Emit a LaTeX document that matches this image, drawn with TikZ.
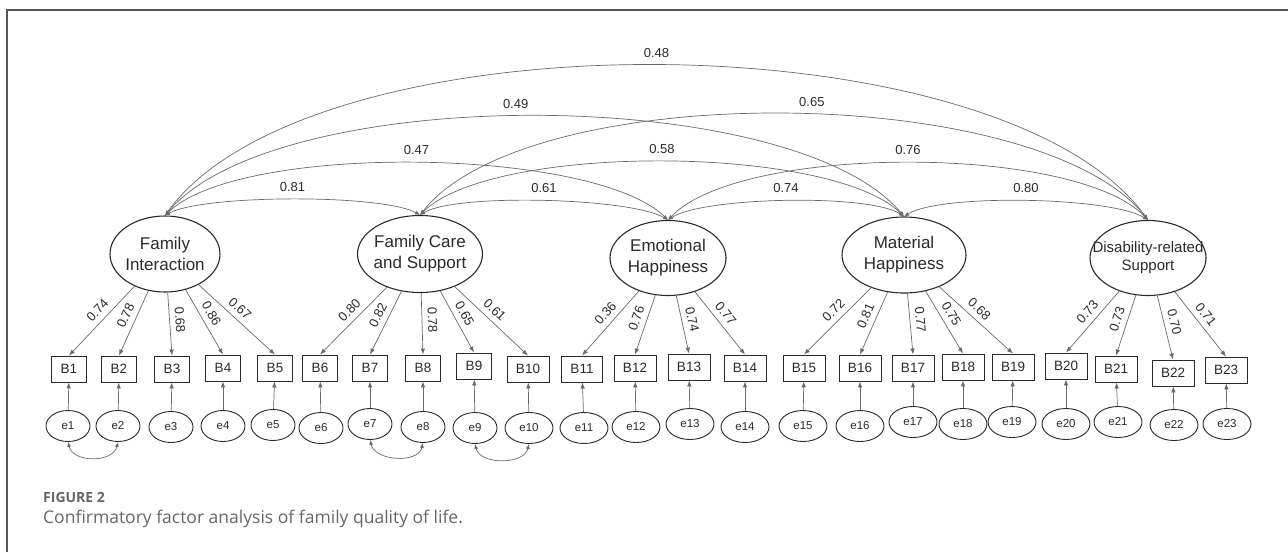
\documentclass[tikz,border=0pt]{standalone}
\usepackage{fontspec}
\setmainfont{Liberation Sans}
\newfontfamily\capfont{Open Sans}
\usetikzlibrary{arrows.meta,shapes.geometric}
\definecolor{framegray}{HTML}{555555}
\definecolor{linegray}{HTML}{6A6A6A}
\definecolor{txt}{HTML}{2A2A2A}
\definecolor{capgray}{HTML}{666666}
\begin{document}
\begin{tikzpicture}[x=1pt,y=-1pt,
  latent/.style={ellipse, draw=txt, line width=1.1pt, inner sep=0pt},
  lattext/.style={align=center, font=\fontsize{17}{21}\selectfont, text=txt},
  ind/.style={rectangle, draw=txt, line width=0.9pt, minimum width=34pt, minimum height=26pt, inner xsep=9pt, inner ysep=0pt, font=\fontsize{13.5}{16}\selectfont, text=txt},
  err/.style={ellipse, draw=txt, line width=0.9pt, minimum width=44pt, minimum height=31pt, inner sep=0pt, font=\fontsize{11.5}{14}\selectfont, text=txt},
  errw/.style={err, minimum width=48pt},
  load/.style={draw=linegray, line width=0.7pt, -{Latex[length=6pt,width=4.5pt]}},
  corr/.style={draw=linegray, line width=0.7pt, {Latex[length=5pt,width=4pt]}-{Latex[length=5pt,width=4pt]}},
  lbl/.style={font=\fontsize{13}{15}\selectfont, text=txt, inner sep=1.5pt}
]
\useasboundingbox (0,0) rectangle (1288,552);
\draw[framegray, line width=1.2pt] (7,552) -- (7,10) -- (1288,10);

% latent variables
\node[latent, minimum width=110, minimum height=76, label={[lattext]center:Family\\Interaction}] (F1) at (165,254) {};
\node[latent, minimum width=125, minimum height=77, label={[lattext]center:Family Care\\and Support}] (F2) at (420,254) {};
\node[latent, minimum width=116, minimum height=75, label={[lattext]center:Emotional\\Happiness}] (F3) at (668,258) {};
\node[latent, minimum width=124, minimum height=76, label={[lattext]center:Material\\Happiness}] (F4) at (904,255) {};
\node[latent, minimum width=116, minimum height=75, label={[lattext, font=\fontsize{15}{18}\selectfont]center:Disability-related\\Support}] (F5) at (1148,258) {};

% indicators
\foreach \n/\x/\y in {1/69/369, 2/119/369, 3/172/369, 4/223/368, 5/275/368, 6/320/368, 7/370/368, 8/423/368, 9/474/366, 10/528/369, 11/582/369, 12/635/368, 13/689/367, 14/745/368, 15/804/368, 16/860/368, 17/913/368, 18/963/367, 19/1013/367, 20/1066/366, 21/1116/369, 22/1173/373, 23/1226/370}
  \node[ind] (B\n) at (\x,\y) {B\n};

% errors
\foreach \n/\x/\y in {1/68/426, 2/118/426, 3/171/427, 4/223/426, 5/273/425, 6/321/428, 7/370/424, 8/423/427, 9/475/428}
  \node[err] (e\n) at (\x,\y) {e\n};
\foreach \n/\x/\y in {10/529/428, 11/584/428, 12/636/427, 13/690/424, 14/745/427, 15/803/426, 16/860/426, 17/913/422, 18/963/424, 19/1012/422, 20/1066/424, 21/1118/422, 22/1174/425, 23/1227/424}
  \node[errw] (e\n) at (\x,\y) {e\n};

% loadings
\foreach \f/\b/\v in {F1/B1/0.74, F1/B2/0.78, F1/B3/0.68, F1/B4/0.86, F1/B5/0.67,
  F2/B6/0.80, F2/B7/0.82, F2/B8/0.78, F2/B9/0.65, F2/B10/0.61,
  F3/B11/0.36, F3/B12/0.76, F3/B13/0.74, F3/B14/0.77,
  F4/B15/0.72, F4/B16/0.81, F4/B17/0.77, F4/B18/0.75, F4/B19/0.68,
  F5/B20/0.73, F5/B21/0.73, F5/B22/0.70, F5/B23/0.71}
  \draw[load] (\f) -- (\b.north) node[pos=0.45, sloped, above=4pt, lbl] {\v};

% error arrows
\foreach \n in {1,...,23}
  \draw[load] (e\n) -- (B\n);

% error covariances
\draw[corr] (e1.south) .. controls +(5,21) and +(-5,21) .. (e2.south);
\draw[corr] (e7.south) .. controls +(5,21) and +(-5,21) .. (e8.south);
\draw[corr] (e9.south) .. controls +(5,21) and +(-5,21) .. (e10.south);

% factor correlations
\draw[corr] (F1.north) .. controls +(147,-203) and +(-147,-203) .. (F5.north) node[midway, above=6pt, lbl] {0.48};
\draw[corr] (F1.north) .. controls +(111,-133) and +(-111,-133) .. (F4.north) node[pos=0.48, above=6pt, lbl] {0.49};
\draw[corr] (F1.north) .. controls +(75,-73) and +(-75,-73) .. (F3.north) node[midway, above=6pt, lbl] {0.47};
\draw[corr] (F1.north) .. controls +(38,-21) and +(-38,-21) .. (F2.north) node[midway, above=6pt, lbl] {0.81};
\draw[corr] (F2.north) .. controls +(109,-138) and +(-109,-138) .. (F5.north) node[pos=0.53, above=6pt, lbl] {0.65};
\draw[corr] (F2.north) .. controls +(73,-72) and +(-73,-72) .. (F4.north) node[midway, above=6pt, lbl] {0.58};
\draw[corr] (F2.north) .. controls +(37,-22) and +(-37,-22) .. (F3.north) node[midway, above=6pt, lbl] {0.61};
\draw[corr] (F3.north) .. controls +(72,-76) and +(-72,-76) .. (F5.north) node[midway, above=6pt, lbl] {0.76};
\draw[corr] (F3.north) .. controls +(35,-23) and +(-35,-23) .. (F4.north) node[midway, above=6pt, lbl] {0.74};
\draw[corr] (F4.north) .. controls +(37,-23) and +(-37,-23) .. (F5.north) node[midway, above=6pt, lbl] {0.80};

% caption
\node[anchor=base west, inner sep=0pt, font=\capfont\bfseries\fontsize{14}{17}\selectfont, text=capgray] (cap1) at (43,502) {FIGURE 2};
\node[anchor=base west, inner sep=0pt, font=\capfont\fontsize{17.5}{21}\selectfont, text=capgray] (cap2) at (43,523) {Confirmatory factor analysis of family quality of life.};
\end{tikzpicture}
\end{document}
